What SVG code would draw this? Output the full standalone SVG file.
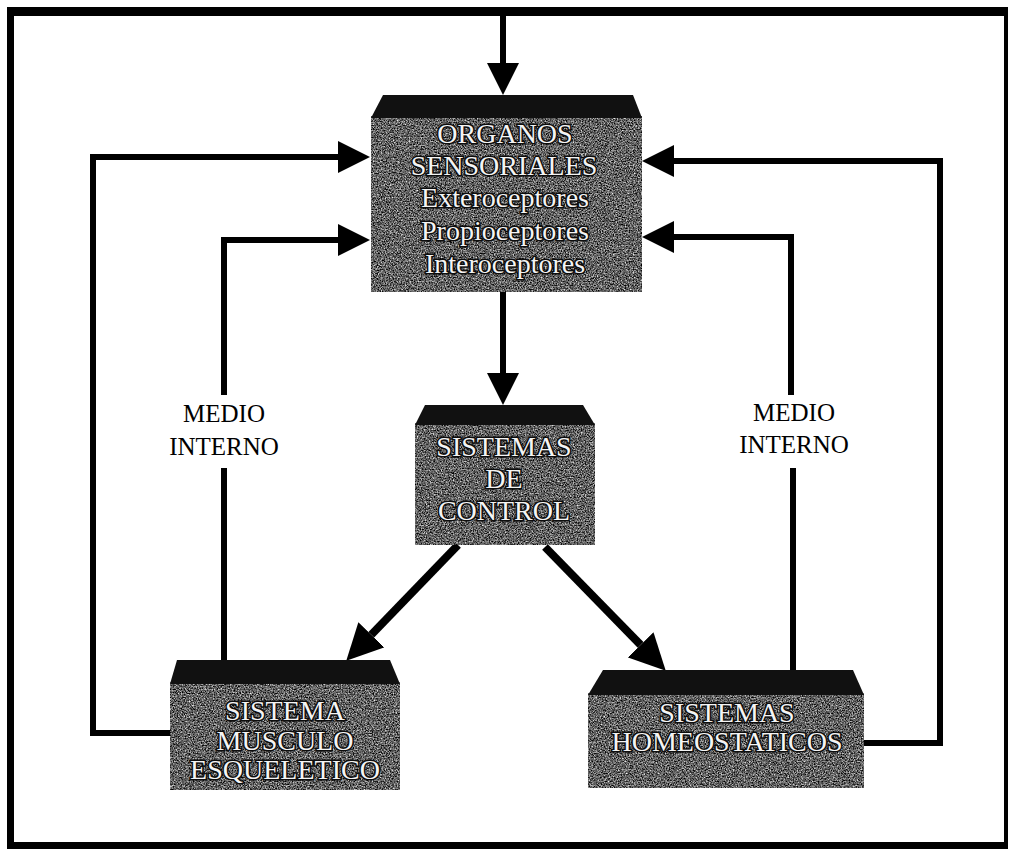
<svg xmlns="http://www.w3.org/2000/svg" width="1013" height="853" viewBox="0 0 1013 853">
  <style>
    .body { fill: #5e5e5e; }
    .roof { fill: #111; }
    .label { font-family: "Liberation Serif", "Times New Roman", serif; font-size: 28px; fill: #f4f4f4; stroke: #0d0d0d; stroke-width: 3; paint-order: stroke; text-anchor: middle; }
    .note { font-family: "Liberation Serif", "Times New Roman", serif; font-size: 25px; fill: #000; text-anchor: middle; }
    .wire { fill: none; stroke: #000; stroke-width: 6; stroke-linejoin: miter; }
    .diag { fill: none; stroke: #000; stroke-width: 8; }
  </style>
  <defs>
    <!-- speckled grey for the box bodies -->
    <filter id="grain" x="0" y="0" width="100%" height="100%" color-interpolation-filters="sRGB">
      <feTurbulence type="fractalNoise" baseFrequency="0.75" numOctaves="2" seed="7" result="n"/>
      <feColorMatrix in="n" type="matrix" values="1.5 0 0 0 -0.37  1.5 0 0 0 -0.37  1.5 0 0 0 -0.37  0 0 0 0 1" result="g"/>
      <feComposite in="g" in2="SourceGraphic" operator="in"/>
    </filter>
    <marker id="head" markerUnits="userSpaceOnUse" markerWidth="32" markerHeight="32" refX="0" refY="16" orient="auto" viewBox="0 0 32 32">
      <path d="M0,0 L32,16 L0,32 Z" fill="#000"/>
    </marker>
    <marker id="headBig" markerUnits="userSpaceOnUse" markerWidth="36" markerHeight="36" refX="0" refY="18" orient="auto" viewBox="0 0 36 36">
      <path d="M0,0 L36,18 L0,36 Z" fill="#000"/>
    </marker>
  </defs>

  <rect x="0" y="0" width="1013" height="853" fill="#fff"/>

  <!-- outer frame -->
  <g id="frame" fill="#000">
    <rect x="7" y="7" width="1001" height="9"/>
    <rect x="7" y="7" width="7" height="842"/>
    <rect x="1004" y="7" width="4" height="842"/>
    <rect x="7" y="842" width="1001" height="7"/>
  </g>

  <!-- connectors -->
  <g id="connectors">
    <line class="wire" x1="503" y1="16" x2="503" y2="63" marker-end="url(#head)"/>
    <line class="wire" x1="503" y1="292" x2="503" y2="373" marker-end="url(#head)"/>
    <line class="diag" x1="458" y1="545" x2="371.3" y2="634.8" marker-end="url(#headBig)"/>
    <line class="diag" x1="545" y1="547" x2="640.6" y2="644.9" marker-end="url(#headBig)"/>
    <!-- left loops -->
    <path class="wire" d="M170,733 H93 V157 H338" marker-end="url(#head)"/>
    <path class="wire" d="M224,395 V240 H338" marker-end="url(#head)"/>
    <line class="wire" x1="224" y1="468" x2="224" y2="684"/>
    <!-- right loops -->
    <path class="wire" d="M864,743 H940 V161 H674" marker-end="url(#head)"/>
    <path class="wire" d="M791,395 V237 H674" marker-end="url(#head)"/>
    <line class="wire" x1="793" y1="468" x2="793" y2="695"/>
    <text class="note" x="224" y="422">MEDIO</text>
    <text class="note" x="224" y="455">INTERNO</text>
    <text class="note" x="794" y="421">MEDIO</text>
    <text class="note" x="794" y="453">INTERNO</text>
  </g>

  <!-- sensory organs -->
  <g id="organos">
    <rect class="body" x="371" y="116" width="271" height="176"/>
    <rect x="371" y="116" width="271" height="176" filter="url(#grain)"/>
    <path class="roof" d="M383,95 H633 L642,118 H371 Z"/>
    <text class="label" x="505" y="143">ORGANOS</text>
    <text class="label" x="504" y="175">SENSORIALES</text>
    <text class="label" x="505" y="207">Exteroceptores</text>
    <text class="label" x="505" y="240">Propioceptores</text>
    <text class="label" x="505" y="273">Interoceptores</text>
  </g>

  <!-- control systems -->
  <g id="control">
    <rect class="body" x="415" y="423" width="180" height="122"/>
    <rect x="415" y="423" width="180" height="122" filter="url(#grain)"/>
    <path class="roof" d="M425,405 H583 L595,425 H415 Z"/>
    <text class="label" x="504" y="456">SISTEMAS</text>
    <text class="label" x="504" y="488">DE</text>
    <text class="label" x="504" y="520">CONTROL</text>
  </g>

  <!-- musculoskeletal system -->
  <g id="musculo">
    <rect class="body" x="170" y="682" width="230" height="108"/>
    <rect x="170" y="682" width="230" height="108" filter="url(#grain)"/>
    <path class="roof" d="M177,660 H390 L400,684 H170 Z"/>
    <text class="label" x="285" y="720">SISTEMA</text>
    <text class="label" x="285" y="750">MUSCULO</text>
    <text class="label" x="285" y="779">ESQUELETICO</text>
  </g>

  <!-- homeostatic systems -->
  <g id="homeostaticos">
    <rect class="body" x="588" y="693" width="276" height="95"/>
    <rect x="588" y="693" width="276" height="95" filter="url(#grain)"/>
    <path class="roof" d="M603,670 H853 L864,695 H588 Z"/>
    <text class="label" x="727" y="722">SISTEMAS</text>
    <text class="label" x="727" y="751">HOMEOSTATICOS</text>
  </g>
</svg>
